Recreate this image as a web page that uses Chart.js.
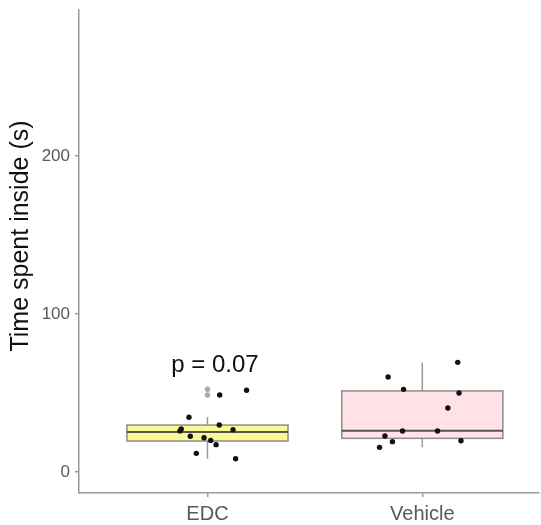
<!DOCTYPE html>
<html>
<head>
<meta charset="utf-8">
<title>Time spent inside</title>
<script src="https://cdn.jsdelivr.net/npm/chart.js"></script>
<style>
  html, body { margin: 0; padding: 0; background: #fff; }
  canvas { display: block; }
</style>
</head>
<body>
<canvas id="chart" width="541" height="525"></canvas>
<script>
// ------ Dados ------
const groups = ["EDC", "Vehicle"];
const yTicks = [0, 100, 200];

// resumo das caixas (min, Q1, mediana, Q3, max dos bigodes)
const whiskerLow = [8.4, 15.6];
const q1 = [19.6, 21.3];
const medians = [25.3, 26.1];
const q3 = [29.7, 51.3];
const whiskerHigh = [34.6, 69.3];

// outliers do boxplot (cinza, no centro da categoria)
const edcOutliers = [48.7, 52.4];

// pontos individuais (posição x com jitter)
const edcJitter = [0.057, 0.182, -0.086, 0.055, -0.122, -0.128, 0.119, -0.080, -0.016, 0.015, 0.040, -0.052, 0.131];
const edcValues = [48.7, 51.7, 34.6, 29.7, 27.2, 26.0, 26.8, 22.6, 21.7, 20.0, 17.3, 11.8, 8.4];
const vehJitter = [0.841, 0.913, 1.165, 1.171, 1.119, 0.908, 1.071, 0.826, 0.861, 0.801, 1.180];
const vehValues = [60.1, 52.3, 69.4, 50.0, 40.5, 25.9, 25.9, 22.8, 19.2, 15.6, 19.8];

const pText = "p = 0.07";
const pPos = { x: 0.035, y: 63.3 };

const boxFills = ["#fcf893", "#ffe1e6"];

// ------ Plugin do boxplot ------
const boxplotPlugin = {
  id: "boxplot",
  beforeDatasetsDraw(chart) {
    const { ctx, scales: { x, y } } = chart;
    const halfW = 0.375;
    ctx.save();
    groups.forEach((g, i) => {
      const xl = x.getPixelForValue(i - halfW);
      const xr = x.getPixelForValue(i + halfW);
      const xc = x.getPixelForValue(i);
      // bigodes
      ctx.strokeStyle = "#9a9a9a";
      ctx.lineWidth = 1.5;
      ctx.beginPath();
      ctx.moveTo(xc, y.getPixelForValue(q3[i]));
      ctx.lineTo(xc, y.getPixelForValue(whiskerHigh[i]));
      ctx.moveTo(xc, y.getPixelForValue(q1[i]));
      ctx.lineTo(xc, y.getPixelForValue(whiskerLow[i]));
      ctx.stroke();
      // caixa
      const yt = y.getPixelForValue(q3[i]);
      const yb = y.getPixelForValue(q1[i]);
      ctx.fillStyle = boxFills[i];
      ctx.fillRect(xl, yt, xr - xl, yb - yt);
      ctx.strokeStyle = "#8c8c8c";
      ctx.lineWidth = 1.5;
      ctx.strokeRect(xl, yt, xr - xl, yb - yt);
      // mediana
      const ym = y.getPixelForValue(medians[i]);
      ctx.strokeStyle = "#555";
      ctx.lineWidth = 2;
      ctx.beginPath();
      ctx.moveTo(xl, ym);
      ctx.lineTo(xr, ym);
      ctx.stroke();
    });
    ctx.restore();
  },
  afterDraw(chart) {
    const { ctx, scales: { x, y } } = chart;
    ctx.save();
    // texto do p-valor
    ctx.fillStyle = "#111";
    ctx.font = "24px 'Liberation Sans', Arial, sans-serif";
    ctx.textAlign = "center";
    ctx.textBaseline = "alphabetic";
    ctx.fillText(pText, x.getPixelForValue(pPos.x), y.getPixelForValue(pPos.y));
    // título do eixo y
    ctx.translate(21, 236);
    ctx.rotate(-Math.PI / 2);
    ctx.font = "25px 'Liberation Sans', Arial, sans-serif";
    ctx.textBaseline = "middle";
    ctx.fillText("Time spent inside (s)", 0, 0);
    ctx.restore();
  },
};

const toPoints = (xs, ys) => xs.map((v, i) => ({ x: v, y: ys[i] }));

const pointStyle = {
  pointRadius: 2.7,
  pointHoverRadius: 0,
  pointBorderWidth: 0,
};

new Chart(document.getElementById("chart"), {
  type: "scatter",
  data: {
    datasets: [
      {
        label: "outliers",
        data: edcOutliers.map((v) => ({ x: 0, y: v })),
        backgroundColor: "#aaaaaa",
        ...pointStyle,
      },
      {
        label: groups[0],
        data: toPoints(edcJitter, edcValues),
        backgroundColor: "#111",
        ...pointStyle,
      },
      {
        label: groups[1],
        data: toPoints(vehJitter, vehValues),
        backgroundColor: "#111",
        ...pointStyle,
      },
    ],
  },
  options: {
    responsive: false,
    animation: false,
    events: [],
    layout: { padding: { top: 10, right: 0, bottom: 0, left: 0 } },
    plugins: { legend: { display: false }, tooltip: { enabled: false } },
    scales: {
      x: {
        type: "linear",
        min: -0.598,
        max: 1.54,
        afterBuildTicks: (s) => { s.ticks = groups.map((g, i) => ({ value: i })); },
        afterFit: (s) => { s.height = 32; s.paddingLeft = 0; s.paddingRight = 0; },
        ticks: {
          callback: (v) => groups[v],
          color: "#595959",
          font: { family: "'Liberation Sans', Arial, sans-serif", size: 20 },
          padding: 5,
          maxRotation: 0,
        },
        grid: { drawOnChartArea: false, tickLength: 4, color: "#9a9a9a", lineWidth: 1.5 },
        border: { color: "#9a9a9a", width: 1.5 },
      },
      y: {
        min: -13.3,
        max: 292.4,
        afterBuildTicks: (s) => { s.ticks = yTicks.map((v) => ({ value: v })); },
        afterFit: (s) => { s.width = 79; s.paddingTop = 0; s.paddingBottom = 0; },
        ticks: {
          color: "#595959",
          font: { family: "'Liberation Sans', Arial, sans-serif", size: 17 },
          padding: 5,
        },
        grid: { drawOnChartArea: false, tickLength: 4, color: "#9a9a9a", lineWidth: 1.5 },
        border: { color: "#9a9a9a", width: 1.5 },
      },
    },
  },
  plugins: [boxplotPlugin],
});
</script>
</body>
</html>
